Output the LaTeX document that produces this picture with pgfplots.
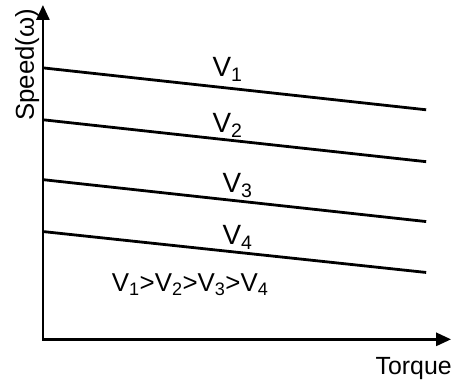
\documentclass[border=0pt]{standalone}
\usepackage{fontspec}
\setmainfont{Liberation Sans}
\usepackage{pgfplots}
\pgfplotsset{compat=1.18}
\usetikzlibrary{arrows.meta}
\begin{document}
\begin{tikzpicture}[x=1bp,y=1bp]
\begin{axis}[
  scale only axis,
  width=409bp, height=335bp,
  xmin=0, xmax=409, ymin=0, ymax=335,
  axis lines=none,
  xtick=\empty, ytick=\empty,
  clip=false,
]
\addplot[black, line width=2.8bp] coordinates {(0,272) (384,230)};
\addplot[black, line width=2.8bp] coordinates {(0,220) (384,178)};
\addplot[black, line width=2.8bp] coordinates {(0,160) (384,118)};
\addplot[black, line width=2.8bp] coordinates {(0,108) (384,67)};
\draw[line width=2.8bp, line join=miter, {Triangle[length=15bp,width=13bp]}-{Triangle[length=15bp,width=13bp]}]
  (axis cs:0,335) -- (axis cs:0,0) -- (axis cs:409,0);
\node[anchor=base, font=\fontsize{28}{30}\selectfont] at (axis cs:185,263) {V\textsubscript{1}};
\node[anchor=base, font=\fontsize{28}{30}\selectfont] at (axis cs:185,207) {V\textsubscript{2}};
\node[anchor=base, font=\fontsize{28}{30}\selectfont] at (axis cs:195,147) {V\textsubscript{3}};
\node[anchor=base, font=\fontsize{28}{30}\selectfont] at (axis cs:195,95) {V\textsubscript{4}};
\node[anchor=base, font=\fontsize{26}{30}\selectfont] at (axis cs:147.5,48) {V\textsubscript{1}>V\textsubscript{2}>V\textsubscript{3}>V\textsubscript{4}};
\node[anchor=base, font=\fontsize{25}{28}\selectfont] at (axis cs:371.5,-35) {Torque};
\node[rotate=90, anchor=base, font=\fontsize{26}{28}\selectfont] at (axis cs:-9,275) {Speed(ω)};
\path (axis cs:-43,-41) rectangle (axis cs:412,340);
\end{axis}
\end{tikzpicture}
\end{document}
